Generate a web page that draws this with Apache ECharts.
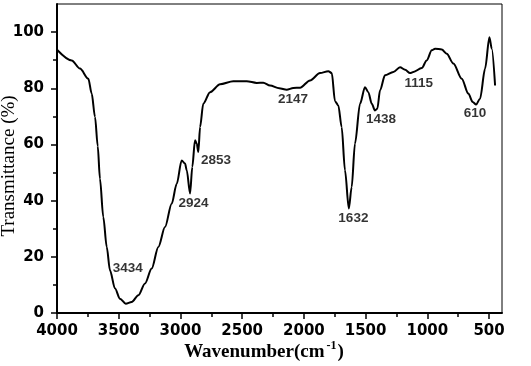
<!DOCTYPE html>
<html>
<head>
<meta charset="utf-8">
<script src="https://cdn.jsdelivr.net/npm/echarts@6/dist/echarts.min.js"></script>
<style>
html,body{margin:0;padding:0;background:#fff;}
#chart{width:531px;height:366px;}
</style>
</head>
<body>
<div id="chart"></div>
<script>
// Spectrum
var wavenumber = [4000, 3881, 3814, 3746, 3719, 3692, 3670, 3652, 3625, 3597, 3571, 3530, 3490, 3443, 3395, 3341, 3287, 3233, 3179, 3125, 3071, 3030, 2990, 2963, 2949, 2922, 2904, 2882, 2868, 2855, 2841, 2815, 2760, 2679, 2572, 2463, 2382, 2329, 2274, 2200, 2139, 2086, 2031, 1950, 1869, 1802, 1774, 1748, 1721, 1694, 1667, 1636, 1613, 1586, 1545, 1505, 1478, 1450, 1424, 1405, 1383, 1343, 1275, 1221, 1180, 1140, 1113, 1045, 1005, 964, 937, 883, 843, 789, 721, 668, 632, 605, 573, 532, 497, 478, 451];
var transmittance = [93.7, 89.9, 87.0, 83.4, 78.1, 69.8, 59.4, 47.8, 34.2, 23.5, 15.2, 8.7, 5.1, 3.3, 3.9, 6.3, 10.5, 15.8, 23.5, 30.6, 38.9, 46.0, 54.3, 53.2, 50.8, 42.5, 52.0, 61.5, 60.3, 57.3, 66.2, 74.5, 78.6, 81.4, 82.5, 82.5, 81.9, 82.0, 81.0, 80.0, 79.5, 80.1, 80.2, 82.8, 85.4, 86.1, 85.4, 75.4, 73.9, 66.2, 50.8, 37.2, 44.8, 60.3, 74.5, 80.4, 78.6, 74.5, 72.1, 72.7, 79.3, 84.6, 85.8, 87.5, 86.6, 85.4, 85.8, 87.2, 89.9, 93.5, 94.1, 93.8, 92.3, 88.8, 83.4, 78.1, 75.1, 74.2, 76.3, 87.0, 98.2, 94.1, 81.0];

// Peak annotations: text and anchor (in data units)
var peakLabels = ['3434', '2924', '2853', '2147', '1632', '1438', '1115', '610'];
var peakLabelX = [3427, 2894, 2712, 2088, 1599, 1375, 1070, 613];
var peakLabelY = [15.9, 39.2, 54.3, 76.0, 33.7, 68.8, 81.7, 71.2];

// Axis ticks
var xMajorTicks = [4000, 3500, 3000, 2500, 2000, 1500, 1000, 500];
var xMinorTicks = [3750, 3250, 2750, 2250, 1750, 1250, 750];
var yMajorTicks = [0, 20, 40, 60, 80, 100];
var yMinorTicks = [10, 30, 50, 70, 90];

var X_MIN = 395, X_MAX = 4000, Y_MIN = 0, Y_MAX = 110;

var spectrum = wavenumber.map(function (w, i) { return [w, transmittance[i]]; });
var peaks = peakLabels.map(function (t, i) { return { name: t, value: [peakLabelX[i], peakLabelY[i]] }; });

var plain = function (v) { return String(v); };
var tickFont = { fontFamily: 'DejaVu Sans', fontWeight: 'bold', fontSize: 15, color: '#000' };

var chart = echarts.init(document.getElementById('chart'), null, { renderer: 'canvas' });
chart.setOption({
  animation: false,
  backgroundColor: '#fff',
  grid: { left: 57, right: 29, top: 4, bottom: 53, containLabel: false, outerBoundsMode: 'none',
          show: true, borderColor: '#000', borderWidth: 1, backgroundColor: 'transparent' },
  xAxis: [{
    type: 'value', inverse: true, min: X_MIN, max: X_MAX,
    name: '{a|Wavenumber(cm}{s|-1}{a|)}{g|}',
    nameLocation: 'middle', nameGap: 27, nameMoveOverlap: false,
    nameTextStyle: {
      rich: {
        a: { fontFamily: 'Liberation Serif', fontWeight: 'bold', fontSize: 19, color: '#000' },
        s: { fontFamily: 'Liberation Serif', fontWeight: 'bold', fontSize: 12, color: '#000', padding: [0, 1, 12, 2] },
        g: { width: 31, fontSize: 12 }
      }
    },
    axisLine: { show: true, onZero: false, lineStyle: { color: '#000', width: 2 } },
    axisTick: { show: true, inside: false, length: 6, lineStyle: { color: '#000', width: 1.5 }, customValues: xMajorTicks },
    axisLabel: Object.assign({ show: true, margin: 11, customValues: xMajorTicks, formatter: plain }, tickFont),
    splitLine: { show: false }
  }, {
    type: 'value', inverse: true, min: X_MIN, max: X_MAX, position: 'bottom',
    axisLine: { show: false, onZero: false },
    axisTick: { show: true, inside: false, length: 4, lineStyle: { color: '#000', width: 1.5 }, customValues: xMinorTicks },
    axisLabel: { show: false },
    splitLine: { show: false }
  }],
  yAxis: [{
    type: 'value', min: Y_MIN, max: Y_MAX,
    name: 'Transmittance (%)',
    nameLocation: 'middle', nameGap: 38, nameRotate: 90, nameMoveOverlap: false,
    nameTextStyle: { fontFamily: 'Liberation Serif', fontSize: 19, color: '#000', padding: [0, 15, 0, 0] },
    axisLine: { show: true, onZero: false, lineStyle: { color: '#000', width: 2 } },
    axisTick: { show: true, inside: false, length: 6, lineStyle: { color: '#000', width: 1.5 }, customValues: yMajorTicks },
    axisLabel: Object.assign({ show: true, margin: 13, customValues: yMajorTicks, formatter: plain }, tickFont),
    splitLine: { show: false }
  }, {
    type: 'value', min: Y_MIN, max: Y_MAX, position: 'left',
    axisLine: { show: false, onZero: false },
    axisTick: { show: true, inside: false, length: 4, lineStyle: { color: '#000', width: 1.5 }, customValues: yMinorTicks },
    axisLabel: { show: false },
    splitLine: { show: false }
  }],
  series: [{
    type: 'line', data: spectrum, xAxisIndex: 0, yAxisIndex: 0,
    showSymbol: false, symbol: 'none', smooth: 0.3, smoothMonotone: 'x',
    lineStyle: { color: '#000', width: 2 }, silent: true, clip: true
  }, {
    type: 'scatter', data: peaks, xAxisIndex: 0, yAxisIndex: 0,
    symbolSize: 0, silent: true,
    label: { show: true, position: 'inside', formatter: '{b}', fontFamily: 'Liberation Sans', fontWeight: 'bold', fontSize: 13.5, color: '#000' }
  }]
});
</script>
</body>
</html>
